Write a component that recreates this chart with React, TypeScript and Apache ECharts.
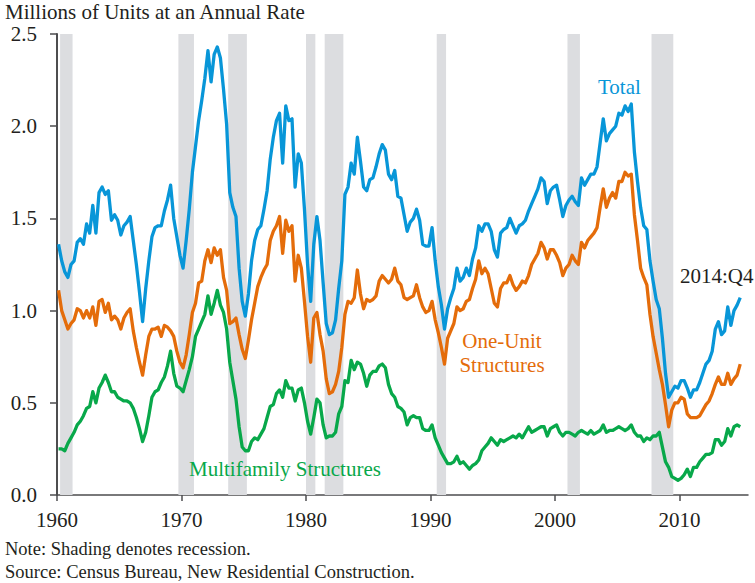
import React, { useEffect, useRef } from "react";
import * as echarts from "echarts";

// Quarterly data, 1960:Q1 – 2014:Q4, millions of units at an annual rate
const startYear = 1960;

const totalStarts = [
  1.36, 1.27, 1.21, 1.18, 1.25, 1.27, 1.37, 1.39, 1.36, 1.47, 1.42, 1.57,
  1.42, 1.64, 1.67, 1.63, 1.65, 1.49, 1.52, 1.49, 1.41, 1.46, 1.48, 1.51,
  1.38, 1.25, 1.10, 0.94, 1.12, 1.27, 1.40, 1.45, 1.46, 1.46, 1.54, 1.60,
  1.68, 1.50, 1.40, 1.30, 1.23, 1.38, 1.55, 1.75, 1.89, 2.03, 2.14, 2.26,
  2.41, 2.24, 2.39, 2.43, 2.37, 2.20, 2.01, 1.64, 1.56, 1.51, 1.23, 1.05,
  0.97, 1.09, 1.27, 1.38, 1.44, 1.46, 1.55, 1.65, 1.82, 1.94, 2.03, 2.07,
  1.80, 2.11, 2.03, 2.04, 1.67, 1.85, 1.80, 1.55, 1.25, 1.05, 1.36, 1.51,
  1.38, 1.15, 0.93, 0.87, 0.88, 0.95, 1.12, 1.27, 1.63, 1.67, 1.80, 1.74,
  1.94, 1.81, 1.67, 1.65, 1.71, 1.72, 1.78, 1.85, 1.90, 1.87, 1.74, 1.71,
  1.76, 1.62, 1.61, 1.52, 1.43, 1.48, 1.50, 1.55, 1.49, 1.36, 1.35, 1.35,
  1.45, 1.27, 1.13, 1.03, 0.90, 1.01, 1.07, 1.12, 1.23, 1.16, 1.18, 1.23,
  1.19, 1.28, 1.34, 1.46, 1.43, 1.47, 1.47, 1.43, 1.33, 1.29, 1.42, 1.44,
  1.45, 1.50, 1.46, 1.42, 1.46, 1.47, 1.49, 1.54, 1.58, 1.62, 1.66, 1.72,
  1.70, 1.58, 1.65, 1.67, 1.68, 1.60, 1.51, 1.57, 1.60, 1.62, 1.59, 1.57,
  1.72, 1.68, 1.71, 1.74, 1.74, 1.78, 1.91, 2.04, 1.92, 1.96, 1.98, 2.00,
  2.07, 2.06, 2.11, 2.08, 2.12, 1.86, 1.70, 1.56, 1.46, 1.44, 1.27, 1.16,
  1.06, 1.01, 0.85, 0.66, 0.53, 0.56, 0.59, 0.58, 0.62, 0.62, 0.58, 0.53,
  0.57, 0.57, 0.61, 0.66, 0.71, 0.73, 0.78, 0.90, 0.94, 0.87, 0.89, 1.02,
  0.92, 1.00, 1.03, 1.07,
];

const oneUnitStarts = [
  1.11, 1.00, 0.95, 0.90, 0.93, 0.95, 1.01, 1.00, 0.96, 1.00, 0.96, 1.02,
  0.92, 1.05, 1.06, 0.99, 1.04, 0.95, 0.97, 0.95, 0.90, 0.96, 0.99, 1.01,
  0.89, 0.80, 0.72, 0.65, 0.76, 0.86, 0.90, 0.90, 0.91, 0.86, 0.92, 0.91,
  0.89, 0.86, 0.78, 0.72, 0.69, 0.76, 0.87, 0.99, 1.04, 1.15, 1.16, 1.27,
  1.33, 1.26, 1.34, 1.30, 1.33, 1.18, 1.11, 0.93, 0.94, 0.96, 0.87, 0.79,
  0.74, 0.84, 0.95, 1.04, 1.13, 1.18, 1.22, 1.25, 1.38, 1.43, 1.46, 1.51,
  1.31, 1.49, 1.43, 1.46, 1.16, 1.30, 1.23, 1.05, 0.86, 0.72, 0.96, 0.99,
  0.87, 0.78, 0.63, 0.55, 0.56, 0.60, 0.67, 0.80, 0.98, 1.05, 1.04, 1.07,
  1.22, 1.09, 1.01, 1.06, 1.05, 1.06, 1.08, 1.16, 1.19, 1.17, 1.15, 1.17,
  1.23, 1.16, 1.14, 1.07, 1.06, 1.07, 1.08, 1.14, 1.07, 1.02, 0.99, 1.00,
  1.05, 0.95, 0.88, 0.80, 0.71, 0.85, 0.89, 0.93, 1.02, 1.00, 1.01, 1.05,
  1.06, 1.12, 1.17, 1.27, 1.20, 1.23, 1.20, 1.12, 1.04, 1.02, 1.12, 1.15,
  1.15, 1.19, 1.14, 1.11, 1.13, 1.16, 1.15, 1.19, 1.25, 1.28, 1.31, 1.37,
  1.34, 1.28, 1.33, 1.33, 1.30, 1.26, 1.19, 1.23, 1.25, 1.30, 1.27, 1.25,
  1.37, 1.34, 1.38, 1.40, 1.42, 1.45, 1.56, 1.66, 1.56, 1.61, 1.64, 1.61,
  1.70, 1.70, 1.75, 1.73, 1.74, 1.52, 1.38, 1.23, 1.18, 1.14, 0.98, 0.86,
  0.77, 0.68, 0.60, 0.49, 0.37, 0.46, 0.50, 0.50, 0.53, 0.52, 0.44, 0.42,
  0.42, 0.42, 0.43, 0.46, 0.49, 0.51, 0.55, 0.60, 0.64, 0.60, 0.60, 0.66,
  0.60, 0.63, 0.65, 0.71,
];

const multifamilyStarts = [
  0.25, 0.25, 0.24, 0.28, 0.31, 0.34, 0.38, 0.40, 0.43, 0.47, 0.48, 0.56,
  0.50, 0.58, 0.61, 0.65, 0.61, 0.56, 0.56, 0.53, 0.52, 0.51, 0.51, 0.50,
  0.47, 0.42, 0.36, 0.29, 0.34, 0.43, 0.53, 0.56, 0.57, 0.61, 0.64, 0.70,
  0.78, 0.66, 0.59, 0.58, 0.56, 0.62, 0.68, 0.75, 0.86, 0.90, 0.94, 0.98,
  1.08, 0.98, 1.04, 1.11, 1.03, 0.99, 0.90, 0.72, 0.62, 0.52, 0.37, 0.26,
  0.24, 0.24, 0.29, 0.31, 0.30, 0.33, 0.36, 0.42, 0.48, 0.49, 0.55, 0.57,
  0.53, 0.62, 0.58, 0.58, 0.51, 0.57, 0.58, 0.50, 0.40, 0.33, 0.42, 0.52,
  0.50, 0.38, 0.31, 0.32, 0.32, 0.34, 0.44, 0.48, 0.62, 0.61, 0.73, 0.68,
  0.72, 0.71, 0.66, 0.59, 0.65, 0.67, 0.67, 0.70, 0.71, 0.69, 0.60, 0.55,
  0.53, 0.48, 0.47, 0.45, 0.38, 0.42, 0.43, 0.42, 0.42, 0.36, 0.35, 0.35,
  0.38, 0.31, 0.27, 0.23, 0.20, 0.17, 0.17, 0.18, 0.21, 0.17, 0.18, 0.16,
  0.14, 0.16, 0.17, 0.19, 0.24, 0.26, 0.28, 0.31, 0.29, 0.27, 0.30, 0.29,
  0.30, 0.31, 0.32, 0.31, 0.33, 0.31, 0.34, 0.37, 0.34, 0.35, 0.36, 0.37,
  0.37, 0.32, 0.36, 0.37, 0.38, 0.34, 0.32, 0.34, 0.34, 0.33, 0.32, 0.34,
  0.35, 0.34, 0.33, 0.35, 0.33, 0.34, 0.35, 0.38, 0.34, 0.35, 0.35, 0.36,
  0.37, 0.36, 0.35, 0.36, 0.38, 0.34, 0.32, 0.32, 0.29, 0.31, 0.30, 0.32,
  0.32, 0.34, 0.26, 0.18, 0.15, 0.10, 0.09, 0.08, 0.09, 0.11, 0.14, 0.10,
  0.15, 0.15, 0.18, 0.20, 0.22, 0.22, 0.23, 0.30, 0.30, 0.27, 0.29, 0.36,
  0.32, 0.37, 0.38, 0.37,
];

// Recession periods (start, end) in fractional years
const recessions = [
  [1960.25, 1961.25],
  [1969.75, 1971.0],
  [1973.75, 1975.25],
  [1980.0, 1980.75],
  [1981.5, 1983.0],
  [1990.5, 1991.25],
  [2001.0, 2002.0],
  [2007.75, 2009.5],
];

const xTicks = [1960, 1970, 1980, 1990, 2000, 2010];
const yTicks = [0, 0.5, 1, 1.5, 2, 2.5];

const FONT = "Liberation Serif";
const BLUE = "#0896d8";
const ORANGE = "#e46c0a";
const GREEN = "#08a84a";
const TEXT = "#231f20";
const AXIS = "#4d4d4f";

const toPairs = (vals: number[]) =>
  vals.map((v, i) => [startYear + (i + 0.5) / 4, v]);

function txt(
  text: string,
  x: number,
  y: number,
  size: number,
  color: string,
  align: string = "left"
) {
  return {
    type: "text",
    x,
    y,
    z: 100,
    zlevel: 0,
    silent: true,
    style: {
      text,
      fill: color,
      font: `${size}px "${FONT}"`,
      fontFamily: FONT,
      fontSize: size,
      align,
      textAlign: align,
      verticalAlign: "middle",
      textVerticalAlign: "middle",
    },
  };
}

export default function App() {
  const ref = useRef<HTMLDivElement>(null);

  useEffect(() => {
    if (!ref.current) return;
    const chart = echarts.init(ref.current, undefined, { renderer: "svg" });

    const lineSeries = (name: string, vals: number[], color: string) => ({
      name,
      type: "line",
      data: toPairs(vals),
      showSymbol: false,
      symbol: "none",
      z: 3,
      lineStyle: { color, width: 3.3, join: "round" },
      itemStyle: { color },
      silent: true,
    });

    chart.setOption({
      animation: false,
      backgroundColor: "#ffffff",
      textStyle: { fontFamily: FONT },
      grid: { left: 57, right: 7, top: 34, bottom: 88, containLabel: false },
      xAxis: {
        type: "value",
        min: 1960,
        max: 2015.5,
        interval: 10,
        splitLine: { show: false },
        axisLine: { show: true, lineStyle: { color: AXIS, width: 1.5 } },
        axisTick: {
          show: true,
          inside: false,
          length: 6,
          customValues: xTicks,
          lineStyle: { color: AXIS, width: 1.5 },
        },
        axisLabel: {
          customValues: xTicks,
          margin: 14,
          fontSize: 21,
          fontFamily: FONT,
          color: TEXT,
          formatter: (v: number) => String(Math.round(v)),
        },
      },
      yAxis: {
        type: "value",
        min: 0,
        max: 2.5,
        interval: 0.5,
        splitLine: { show: false },
        axisLine: { show: true, lineStyle: { color: AXIS, width: 2 } },
        axisTick: {
          show: true,
          inside: false,
          length: 7,
          customValues: yTicks,
          lineStyle: { color: AXIS, width: 1.5 },
        },
        axisLabel: {
          margin: 20,
          fontSize: 21,
          fontFamily: FONT,
          color: TEXT,
          formatter: (v: number) => v.toFixed(1),
        },
      },
      series: [
        {
          name: "Recessions",
          type: "line",
          data: [],
          z: 1,
          silent: true,
          markArea: {
            silent: true,
            itemStyle: { color: "#dcdde0" },
            data: recessions.map(([a, b]) => [{ xAxis: a }, { xAxis: b }]),
          },
        },
        lineSeries("Multifamily Structures", multifamilyStarts, GREEN),
        lineSeries("One-Unit Structures", oneUnitStarts, ORANGE),
        lineSeries("Total", totalStarts, BLUE),
      ],
      graphic: [
        txt("Millions of Units at an Annual Rate", 5, 12, 21, TEXT),
        txt("Total", 598, 87, 21, BLUE),
        txt("2014:Q4", 680, 276, 21, TEXT),
        txt("One-Unit", 502, 341, 21, ORANGE, "center"),
        txt("Structures", 502, 365, 21, ORANGE, "center"),
        txt("Multifamily Structures", 189, 469, 21, GREEN),
        txt("Note: Shading denotes recession.", 5, 549, 18.5, TEXT),
        txt("Source: Census Bureau, New Residential Construction.", 5, 572, 18.5, TEXT),
      ],
    });

    return () => chart.dispose();
  }, []);

  return (
    <div
      ref={ref}
      style={{ position: "fixed", left: 0, top: 0, width: 755, height: 583 }}
    />
  );
}
